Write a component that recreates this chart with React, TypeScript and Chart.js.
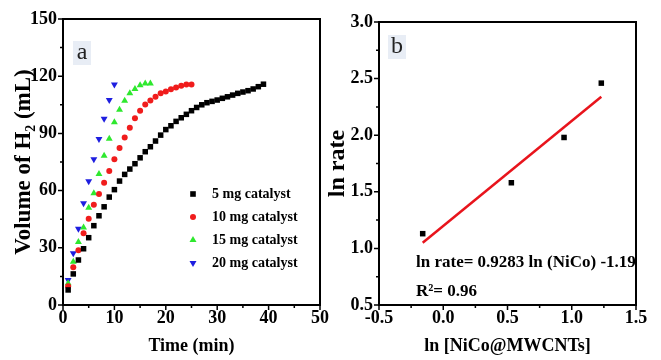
import React, { useEffect, useRef } from 'react';
import { Chart, registerables } from 'chart.js';

Chart.register(...registerables);

const SERIF = "'Liberation Serif', 'Times New Roman', serif";

// ---------- Panel a data ----------
const time = [1, 2, 3, 4, 5, 6, 7, 8, 9, 10, 11, 12, 13, 14, 15, 16, 17, 18, 19, 20,
  21, 22, 23, 24, 25, 26, 27, 28, 29, 30, 31, 32, 33, 34, 35, 36, 37, 38, 39];
const mg5 = [7.9, 16.3, 23.6, 29.5, 35.3, 41.6, 46.8, 51.5, 56.6, 60.5, 65, 68.5, 71.3, 74.1, 77.2,
  80.4, 83, 86, 89.1, 92, 94, 96.3, 98.2, 100, 101.9, 103.6, 105, 106.1, 106.8, 107.5, 108.4, 109.2,
  110.1, 111, 111.7, 112.4, 113.3, 114.5, 115.8];
const mg10 = [9.8, 19.8, 28.7, 37.6, 45.3, 52.6, 58.2, 64.1, 70.3, 76.4, 82.3, 87.9, 93, 97.9, 101.9,
  105.2, 107.3, 109.2, 111, 112, 113.1, 114.1, 115, 115.7, 115.7];
const mg15 = [11.4, 22.7, 33, 40.7, 51, 58.6, 68.7, 78.3, 87.2, 95.8, 102.4, 107.1, 111, 113.3, 115.2,
  116.2, 116.2];
const mg20 = [13.1, 27.1, 40, 53.3, 64.9, 76.4, 87, 97.7, 107.5, 115.7];
const seriesLabels = ['5 mg catalyst', '10 mg catalyst', '15 mg catalyst', '20 mg catalyst'];

// ---------- Panel b data ----------
const lnConc = [-0.16, 0.53, 0.94, 1.23];
const lnRate = [1.13, 1.58, 1.98, 2.46];
const fitX = [-0.16, 1.23];
const fitY = [1.05, 2.34];
const eqText = 'ln rate= 0.9283 ln (NiCo) -1.19';
const r2Text = 'R\u00B2= 0.96';

const COLORS = ['#000000', '#f01c1c', '#2ee82e', '#1e1ee0'];

const font = (size: number, weight: string = 'bold') => ({ family: SERIF, size, weight });

function drawMarker(ctx: CanvasRenderingContext2D, style: string, x: number, y: number, color: string) {
  ctx.save();
  ctx.fillStyle = color;
  ctx.beginPath();
  if (style === 'rect') {
    ctx.rect(x - 2.8, y - 2.8, 5.6, 5.6);
  } else if (style === 'circle') {
    ctx.arc(x, y, 3, 0, Math.PI * 2);
  } else if (style === 'up') {
    ctx.moveTo(x, y - 4);
    ctx.lineTo(x + 3.5, y + 2);
    ctx.lineTo(x - 3.5, y + 2);
    ctx.closePath();
  } else {
    ctx.moveTo(x, y + 4);
    ctx.lineTo(x + 3.5, y - 2);
    ctx.lineTo(x - 3.5, y - 2);
    ctx.closePath();
  }
  ctx.fill();
  ctx.restore();
}

const frameTicks = {
  id: 'frameTicks',
  afterDraw(chart: any) {
    const { ctx, chartArea: a } = chart;
    const xs = chart.scales.x;
    const ys = chart.scales.y;
    ctx.save();
    ctx.strokeStyle = '#000';
    ctx.lineWidth = 2;
    ctx.strokeRect(a.left, a.top, a.right - a.left, a.bottom - a.top);
    ctx.lineWidth = 1.5;
    const xv = xs.ticks.map((t: any) => t.value);
    const yv = ys.ticks.map((t: any) => t.value);
    ctx.beginPath();
    xv.forEach((v: number, i: number) => {
      const p = xs.getPixelForValue(v);
      ctx.moveTo(p, a.bottom);
      ctx.lineTo(p, a.bottom + 5);
      if (i < xv.length - 1) {
        const m = xs.getPixelForValue((v + xv[i + 1]) / 2);
        ctx.moveTo(m, a.bottom);
        ctx.lineTo(m, a.bottom + 3);
      }
    });
    yv.forEach((v: number, i: number) => {
      const p = ys.getPixelForValue(v);
      ctx.moveTo(a.left, p);
      ctx.lineTo(a.left - 5, p);
      if (i < yv.length - 1) {
        const m = ys.getPixelForValue((v + yv[i + 1]) / 2);
        ctx.moveTo(a.left, m);
        ctx.lineTo(a.left - 3, m);
      }
    });
    ctx.stroke();
    ctx.restore();
  },
};

function panelLetter(ctx: CanvasRenderingContext2D, text: string, x: number, y: number) {
  ctx.save();
  ctx.fillStyle = '#e8edf5';
  ctx.fillRect(x - 9, y - 12, 18, 24);
  ctx.fillStyle = '#222';
  ctx.font = `24px ${SERIF}`;
  ctx.textAlign = 'center';
  ctx.textBaseline = 'middle';
  ctx.fillText(text, x, y);
  ctx.restore();
}

const legendA = {
  id: 'legendA',
  afterDraw(chart: any) {
    const { ctx, chartArea: a } = chart;
    const styles = ['rect', 'circle', 'up', 'down'];
    ctx.save();
    ctx.font = `bold 14px ${SERIF}`;
    ctx.fillStyle = '#000';
    ctx.textBaseline = 'middle';
    ctx.textAlign = 'left';
    seriesLabels.forEach((lab, i) => {
      const y = a.top + 175 + i * 23;
      drawMarker(ctx, styles[i], a.left + 130, y, COLORS[i]);
      ctx.fillStyle = '#000';
      ctx.fillText(lab, a.left + 149, y);
    });
    ctx.restore();
    panelLetter(ctx, 'a', a.left + 19, a.top + 34);
  },
};

const notesB = {
  id: 'notesB',
  afterDraw(chart: any) {
    const { ctx, chartArea: a } = chart;
    panelLetter(ctx, 'b', a.left + 18, a.top + 25);
    ctx.save();
    ctx.font = `bold 17px ${SERIF}`;
    ctx.fillStyle = '#000';
    ctx.textBaseline = 'middle';
    ctx.textAlign = 'left';
    ctx.fillText(eqText, a.left + 37, a.top + 241);
    ctx.fillText(r2Text, a.left + 37, a.top + 270);
    ctx.restore();
  },
};

function makeA(canvas: HTMLCanvasElement) {
  const styles: any[] = ['rect', 'circle', 'triangle', 'triangle'];
  const radii = [3.9, 3, 4, 4];
  const sets = [mg5, mg10, mg15, mg20];
  return new Chart(canvas, {
    type: 'scatter',
    data: {
      datasets: sets.map((vals, i) => ({
        label: seriesLabels[i],
        data: vals.map((v, j) => ({ x: time[j], y: v })),
        pointStyle: styles[i],
        pointRotation: i === 3 ? 180 : 0,
        pointRadius: radii[i],
        pointBorderWidth: 0,
        pointBackgroundColor: COLORS[i],
        backgroundColor: COLORS[i],
        borderColor: COLORS[i],
      })),
    },
    options: {
      responsive: false,
      animation: false,
      devicePixelRatio: 1,
      layout: { padding: { top: 19, right: 20, left: 0, bottom: 0 } },
      plugins: { legend: { display: false }, tooltip: { enabled: false } },
      scales: {
        x: {
          type: 'linear', min: 0, max: 50,
          grid: { display: false, drawTicks: false },
          border: { display: false },
          ticks: { stepSize: 10, color: '#000', font: font(18), padding: 3, autoSkip: false, maxRotation: 0 },
          title: { display: true, text: 'Time (min)', color: '#000', font: font(18), padding: { top: 0, bottom: 3 } },
          afterFit: (s: any) => { s.height = 55; },
        },
        y: {
          type: 'linear', min: 0, max: 150,
          grid: { display: false, drawTicks: false },
          border: { display: false },
          ticks: { stepSize: 30, color: '#000', font: font(18), padding: 6, autoSkip: false },
          title: { display: true, text: 'Volume of H\u2082 (mL)', color: '#000', font: font(23), padding: { top: 10, bottom: 0 } },
          afterFit: (s: any) => { s.width = 63; },
        },
      },
    } as any,
    plugins: [frameTicks, legendA],
  });
}

function makeB(canvas: HTMLCanvasElement) {
  return new Chart(canvas, {
    type: 'scatter',
    data: {
      datasets: [
        {
          label: 'fit',
          data: fitX.map((x, i) => ({ x, y: fitY[i] })),
          showLine: true,
          borderColor: '#e8141c',
          borderWidth: 2.5,
          pointRadius: 0,
          order: 2,
        },
        {
          label: 'ln rate',
          data: lnConc.map((x, i) => ({ x, y: lnRate[i] })),
          pointStyle: 'rect',
          pointRadius: 3.9,
          pointBorderWidth: 0,
          pointBackgroundColor: '#000',
          backgroundColor: '#000',
          order: 1,
        },
      ],
    },
    options: {
      responsive: false,
      animation: false,
      devicePixelRatio: 1,
      layout: { padding: { top: 22, right: 25, left: 0, bottom: 0 } },
      plugins: { legend: { display: false }, tooltip: { enabled: false } },
      scales: {
        x: {
          type: 'linear', min: -0.5, max: 1.5,
          grid: { display: false, drawTicks: false },
          border: { display: false },
          ticks: { stepSize: 0.5, color: '#000', font: font(18), padding: 3, autoSkip: false, maxRotation: 0,
            callback: (v: any) => Number(v).toFixed(1) },
          title: { display: true, text: 'ln [NiCo@MWCNTs]', color: '#000', font: font(18), padding: { top: 0, bottom: 3 } },
          afterFit: (s: any) => { s.height = 55; },
        },
        y: {
          type: 'linear', min: 0.5, max: 3.0,
          grid: { display: false, drawTicks: false },
          border: { display: false },
          ticks: { stepSize: 0.5, color: '#000', font: font(18), padding: 6, autoSkip: false,
            callback: (v: any) => Number(v).toFixed(1) },
          title: { display: true, text: 'ln rate', color: '#000', font: font(24), padding: { top: 13, bottom: 0 } },
          afterFit: (s: any) => { s.width = 69; },
        },
      },
    } as any,
    plugins: [frameTicks, notesB],
  });
}

export default function App() {
  const refA = useRef<HTMLCanvasElement>(null);
  const refB = useRef<HTMLCanvasElement>(null);
  useEffect(() => {
    const a = makeA(refA.current!);
    const b = makeB(refB.current!);
    return () => { a.destroy(); b.destroy(); };
  }, []);
  return (
    <div style={{ position: 'absolute', left: 0, top: 0, width: 661, height: 360, background: '#fff', overflow: 'hidden' }}>
      <canvas ref={refA} width={340} height={360}
        style={{ position: 'absolute', left: 0, top: 0, width: 340, height: 360 }} />
      <canvas ref={refB} width={351} height={360}
        style={{ position: 'absolute', left: 310, top: 0, width: 351, height: 360 }} />
    </div>
  );
}
